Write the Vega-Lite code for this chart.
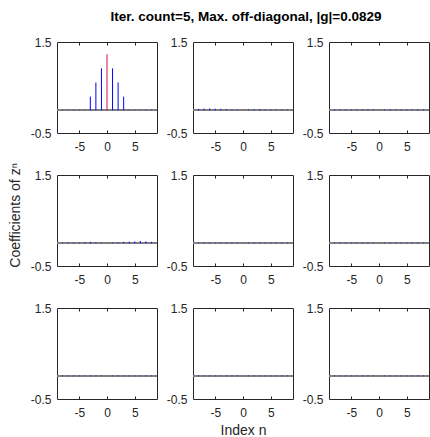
{
  "$schema": "https://vega.github.io/schema/vega-lite/v6.json",
  "padding": {"left": 7, "top": 10, "right": 0, "bottom": 0},
  "title": {"text": "Iter. count=5, Max. off-diagonal, |g|=0.0829", "dx": 27},
  "columns": 3,
  "bounds": "flush",
  "spacing": {"row": 42, "column": 36},
  "data": {"values": [
    {"r":1,"c":1,"n":-8,"v":0.012},{"r":1,"c":1,"n":-7,"v":0.012},{"r":1,"c":1,"n":-6,"v":0.012},{"r":1,"c":1,"n":-5,"v":0.012},{"r":1,"c":1,"n":-4,"v":0.012},{"r":1,"c":1,"n":-3,"v":0.30},{"r":1,"c":1,"n":-2,"v":0.61},{"r":1,"c":1,"n":-1,"v":0.92},{"r":1,"c":1,"n":0,"v":1.23},{"r":1,"c":1,"n":1,"v":0.92},{"r":1,"c":1,"n":2,"v":0.61},{"r":1,"c":1,"n":3,"v":0.30},{"r":1,"c":1,"n":4,"v":0.012},{"r":1,"c":1,"n":5,"v":0.012},{"r":1,"c":1,"n":6,"v":0.012},{"r":1,"c":1,"n":7,"v":0.012},{"r":1,"c":1,"n":8,"v":0.012},
    {"r":1,"c":2,"n":-8,"v":0.03},{"r":1,"c":2,"n":-7,"v":0.035},{"r":1,"c":2,"n":-6,"v":0.04},{"r":1,"c":2,"n":-5,"v":0.035},{"r":1,"c":2,"n":-4,"v":0.03},{"r":1,"c":2,"n":-3,"v":0.025},{"r":1,"c":2,"n":-2,"v":0.015},{"r":1,"c":2,"n":-1,"v":0.015},{"r":1,"c":2,"n":0,"v":0.015},{"r":1,"c":2,"n":1,"v":0.015},{"r":1,"c":2,"n":2,"v":0.025},{"r":1,"c":2,"n":3,"v":0.025},{"r":1,"c":2,"n":4,"v":0.02},{"r":1,"c":2,"n":5,"v":0.015},{"r":1,"c":2,"n":6,"v":0.015},{"r":1,"c":2,"n":7,"v":0.015},{"r":1,"c":2,"n":8,"v":0.015},
    {"r":1,"c":3,"n":-8,"v":0.018},{"r":1,"c":3,"n":-7,"v":0.018},{"r":1,"c":3,"n":-6,"v":0.018},{"r":1,"c":3,"n":-5,"v":0.018},{"r":1,"c":3,"n":-4,"v":0.018},{"r":1,"c":3,"n":-3,"v":0.018},{"r":1,"c":3,"n":-2,"v":0.018},{"r":1,"c":3,"n":-1,"v":0.018},{"r":1,"c":3,"n":0,"v":0.018},{"r":1,"c":3,"n":1,"v":0.018},{"r":1,"c":3,"n":2,"v":0.018},{"r":1,"c":3,"n":3,"v":0.018},{"r":1,"c":3,"n":4,"v":0.018},{"r":1,"c":3,"n":5,"v":0.018},{"r":1,"c":3,"n":6,"v":0.018},{"r":1,"c":3,"n":7,"v":0.018},{"r":1,"c":3,"n":8,"v":0.018},
    {"r":2,"c":1,"n":-8,"v":0.015},{"r":2,"c":1,"n":-7,"v":0.015},{"r":2,"c":1,"n":-6,"v":0.015},{"r":2,"c":1,"n":-5,"v":0.015},{"r":2,"c":1,"n":-4,"v":0.025},{"r":2,"c":1,"n":-3,"v":0.03},{"r":2,"c":1,"n":-2,"v":0.02},{"r":2,"c":1,"n":-1,"v":0.015},{"r":2,"c":1,"n":0,"v":0.015},{"r":2,"c":1,"n":1,"v":0.015},{"r":2,"c":1,"n":2,"v":0.02},{"r":2,"c":1,"n":3,"v":0.03},{"r":2,"c":1,"n":4,"v":0.035},{"r":2,"c":1,"n":5,"v":0.04},{"r":2,"c":1,"n":6,"v":0.05},{"r":2,"c":1,"n":7,"v":0.04},{"r":2,"c":1,"n":8,"v":0.03},
    {"r":2,"c":2,"n":-8,"v":0.015},{"r":2,"c":2,"n":-7,"v":0.015},{"r":2,"c":2,"n":-6,"v":0.015},{"r":2,"c":2,"n":-5,"v":0.015},{"r":2,"c":2,"n":-4,"v":0.015},{"r":2,"c":2,"n":-3,"v":0.015},{"r":2,"c":2,"n":-2,"v":0.015},{"r":2,"c":2,"n":-1,"v":0.015},{"r":2,"c":2,"n":0,"v":0.015},{"r":2,"c":2,"n":1,"v":0.015},{"r":2,"c":2,"n":2,"v":0.015},{"r":2,"c":2,"n":3,"v":0.015},{"r":2,"c":2,"n":4,"v":0.015},{"r":2,"c":2,"n":5,"v":0.015},{"r":2,"c":2,"n":6,"v":0.015},{"r":2,"c":2,"n":7,"v":0.015},{"r":2,"c":2,"n":8,"v":0.015},
    {"r":2,"c":3,"n":-8,"v":0.015},{"r":2,"c":3,"n":-7,"v":0.015},{"r":2,"c":3,"n":-6,"v":0.015},{"r":2,"c":3,"n":-5,"v":0.015},{"r":2,"c":3,"n":-4,"v":0.015},{"r":2,"c":3,"n":-3,"v":0.015},{"r":2,"c":3,"n":-2,"v":0.015},{"r":2,"c":3,"n":-1,"v":0.015},{"r":2,"c":3,"n":0,"v":0.015},{"r":2,"c":3,"n":1,"v":0.015},{"r":2,"c":3,"n":2,"v":0.015},{"r":2,"c":3,"n":3,"v":0.015},{"r":2,"c":3,"n":4,"v":0.015},{"r":2,"c":3,"n":5,"v":0.015},{"r":2,"c":3,"n":6,"v":0.015},{"r":2,"c":3,"n":7,"v":0.015},{"r":2,"c":3,"n":8,"v":0.015},
    {"r":3,"c":1,"n":-8,"v":0.015},{"r":3,"c":1,"n":-7,"v":0.015},{"r":3,"c":1,"n":-6,"v":0.015},{"r":3,"c":1,"n":-5,"v":0.015},{"r":3,"c":1,"n":-4,"v":0.015},{"r":3,"c":1,"n":-3,"v":0.015},{"r":3,"c":1,"n":-2,"v":0.015},{"r":3,"c":1,"n":-1,"v":0.015},{"r":3,"c":1,"n":0,"v":0.015},{"r":3,"c":1,"n":1,"v":0.015},{"r":3,"c":1,"n":2,"v":0.015},{"r":3,"c":1,"n":3,"v":0.015},{"r":3,"c":1,"n":4,"v":0.015},{"r":3,"c":1,"n":5,"v":0.015},{"r":3,"c":1,"n":6,"v":0.015},{"r":3,"c":1,"n":7,"v":0.015},{"r":3,"c":1,"n":8,"v":0.015},
    {"r":3,"c":2,"n":-8,"v":0.015},{"r":3,"c":2,"n":-7,"v":0.015},{"r":3,"c":2,"n":-6,"v":0.015},{"r":3,"c":2,"n":-5,"v":0.015},{"r":3,"c":2,"n":-4,"v":0.015},{"r":3,"c":2,"n":-3,"v":0.015},{"r":3,"c":2,"n":-2,"v":0.015},{"r":3,"c":2,"n":-1,"v":0.015},{"r":3,"c":2,"n":0,"v":0.015},{"r":3,"c":2,"n":1,"v":0.015},{"r":3,"c":2,"n":2,"v":0.015},{"r":3,"c":2,"n":3,"v":0.015},{"r":3,"c":2,"n":4,"v":0.015},{"r":3,"c":2,"n":5,"v":0.015},{"r":3,"c":2,"n":6,"v":0.015},{"r":3,"c":2,"n":7,"v":0.015},{"r":3,"c":2,"n":8,"v":0.015},
    {"r":3,"c":3,"n":-8,"v":0.015},{"r":3,"c":3,"n":-7,"v":0.015},{"r":3,"c":3,"n":-6,"v":0.015},{"r":3,"c":3,"n":-5,"v":0.015},{"r":3,"c":3,"n":-4,"v":0.015},{"r":3,"c":3,"n":-3,"v":0.015},{"r":3,"c":3,"n":-2,"v":0.015},{"r":3,"c":3,"n":-1,"v":0.015},{"r":3,"c":3,"n":0,"v":0.015},{"r":3,"c":3,"n":1,"v":0.015},{"r":3,"c":3,"n":2,"v":0.015},{"r":3,"c":3,"n":3,"v":0.015},{"r":3,"c":3,"n":4,"v":0.015},{"r":3,"c":3,"n":5,"v":0.015},{"r":3,"c":3,"n":6,"v":0.015},{"r":3,"c":3,"n":7,"v":0.015},{"r":3,"c":3,"n":8,"v":0.015}
  ]},
  "concat": [
    {"width": 100, "height": 91, "transform": [{"filter": "datum.r == 1 && datum.c == 1"}], "resolve": {"axis": {"x": "independent"}}, "layer": [
      {"mark": {"type": "rule", "color": "#808080", "strokeWidth": 1.5}, "encoding": {"y": {"datum": 0, "type": "quantitative"}}},
      {"mark": {"type": "rule", "strokeWidth": 1}, "encoding": {"x": {"field": "n", "type": "quantitative", "scale": {"domain": [-9, 9], "nice": false, "zero": false}, "axis": {"values": [-5, 0, 5], "title": null}}, "y": {"field": "v", "type": "quantitative", "scale": {"domain": [-0.5, 1.5], "nice": false, "zero": false}, "axis": {"values": [-0.5, 1.5], "format": ".1f", "title": null}}, "y2": {"datum": 0}, "color": {"condition": {"test": "datum.n === 0", "value": "#cc1155"}, "value": "#0000ff"}}},
      {"mark": {"type": "rule", "opacity": 0}, "encoding": {"x": {"field": "n", "type": "quantitative", "axis": {"orient": "top", "values": [-5, 0, 5], "title": null}}}}
    ]},
    {"width": 100, "height": 91, "transform": [{"filter": "datum.r == 1 && datum.c == 2"}], "resolve": {"axis": {"x": "independent"}}, "layer": [
      {"mark": {"type": "rule", "color": "#808080", "strokeWidth": 1.5}, "encoding": {"y": {"datum": 0, "type": "quantitative"}}},
      {"mark": {"type": "rule", "strokeWidth": 1}, "encoding": {"x": {"field": "n", "type": "quantitative", "scale": {"domain": [-9, 9], "nice": false, "zero": false}, "axis": {"values": [-5, 0, 5], "title": null}}, "y": {"field": "v", "type": "quantitative", "scale": {"domain": [-0.5, 1.5], "nice": false, "zero": false}, "axis": {"values": [-0.5, 1.5], "format": ".1f", "title": null}}, "y2": {"datum": 0}, "color": {"condition": {"test": "datum.n === 0", "value": "#cc1155"}, "value": "#0000ff"}}},
      {"mark": {"type": "rule", "opacity": 0}, "encoding": {"x": {"field": "n", "type": "quantitative", "axis": {"orient": "top", "values": [-5, 0, 5], "title": null}}}}
    ]},
    {"width": 100, "height": 91, "transform": [{"filter": "datum.r == 1 && datum.c == 3"}], "resolve": {"axis": {"x": "independent"}}, "layer": [
      {"mark": {"type": "rule", "color": "#808080", "strokeWidth": 1.5}, "encoding": {"y": {"datum": 0, "type": "quantitative"}}},
      {"mark": {"type": "rule", "strokeWidth": 1}, "encoding": {"x": {"field": "n", "type": "quantitative", "scale": {"domain": [-9, 9], "nice": false, "zero": false}, "axis": {"values": [-5, 0, 5], "title": null}}, "y": {"field": "v", "type": "quantitative", "scale": {"domain": [-0.5, 1.5], "nice": false, "zero": false}, "axis": {"values": [-0.5, 1.5], "format": ".1f", "title": null}}, "y2": {"datum": 0}, "color": {"condition": {"test": "datum.n === 0", "value": "#cc1155"}, "value": "#0000ff"}}},
      {"mark": {"type": "rule", "opacity": 0}, "encoding": {"x": {"field": "n", "type": "quantitative", "axis": {"orient": "top", "values": [-5, 0, 5], "title": null}}}}
    ]},
    {"width": 100, "height": 91, "transform": [{"filter": "datum.r == 2 && datum.c == 1"}], "resolve": {"axis": {"x": "independent"}}, "layer": [
      {"mark": {"type": "rule", "color": "#808080", "strokeWidth": 1.5}, "encoding": {"y": {"datum": 0, "type": "quantitative"}}},
      {"mark": {"type": "rule", "strokeWidth": 1}, "encoding": {"x": {"field": "n", "type": "quantitative", "scale": {"domain": [-9, 9], "nice": false, "zero": false}, "axis": {"values": [-5, 0, 5], "title": null}}, "y": {"field": "v", "type": "quantitative", "scale": {"domain": [-0.5, 1.5], "nice": false, "zero": false}, "axis": {"values": [-0.5, 1.5], "format": ".1f", "title": "Coefficients of zⁿ", "titleY": 40, "titlePadding": 8}}, "y2": {"datum": 0}, "color": {"condition": {"test": "datum.n === 0", "value": "#cc1155"}, "value": "#0000ff"}}},
      {"mark": {"type": "rule", "opacity": 0}, "encoding": {"x": {"field": "n", "type": "quantitative", "axis": {"orient": "top", "values": [-5, 0, 5], "title": null}}}}
    ]},
    {"width": 100, "height": 91, "transform": [{"filter": "datum.r == 2 && datum.c == 2"}], "resolve": {"axis": {"x": "independent"}}, "layer": [
      {"mark": {"type": "rule", "color": "#808080", "strokeWidth": 1.5}, "encoding": {"y": {"datum": 0, "type": "quantitative"}}},
      {"mark": {"type": "rule", "strokeWidth": 1}, "encoding": {"x": {"field": "n", "type": "quantitative", "scale": {"domain": [-9, 9], "nice": false, "zero": false}, "axis": {"values": [-5, 0, 5], "title": null}}, "y": {"field": "v", "type": "quantitative", "scale": {"domain": [-0.5, 1.5], "nice": false, "zero": false}, "axis": {"values": [-0.5, 1.5], "format": ".1f", "title": null}}, "y2": {"datum": 0}, "color": {"condition": {"test": "datum.n === 0", "value": "#cc1155"}, "value": "#0000ff"}}},
      {"mark": {"type": "rule", "opacity": 0}, "encoding": {"x": {"field": "n", "type": "quantitative", "axis": {"orient": "top", "values": [-5, 0, 5], "title": null}}}}
    ]},
    {"width": 100, "height": 91, "transform": [{"filter": "datum.r == 2 && datum.c == 3"}], "resolve": {"axis": {"x": "independent"}}, "layer": [
      {"mark": {"type": "rule", "color": "#808080", "strokeWidth": 1.5}, "encoding": {"y": {"datum": 0, "type": "quantitative"}}},
      {"mark": {"type": "rule", "strokeWidth": 1}, "encoding": {"x": {"field": "n", "type": "quantitative", "scale": {"domain": [-9, 9], "nice": false, "zero": false}, "axis": {"values": [-5, 0, 5], "title": null}}, "y": {"field": "v", "type": "quantitative", "scale": {"domain": [-0.5, 1.5], "nice": false, "zero": false}, "axis": {"values": [-0.5, 1.5], "format": ".1f", "title": null}}, "y2": {"datum": 0}, "color": {"condition": {"test": "datum.n === 0", "value": "#cc1155"}, "value": "#0000ff"}}},
      {"mark": {"type": "rule", "opacity": 0}, "encoding": {"x": {"field": "n", "type": "quantitative", "axis": {"orient": "top", "values": [-5, 0, 5], "title": null}}}}
    ]},
    {"width": 100, "height": 91, "transform": [{"filter": "datum.r == 3 && datum.c == 1"}], "resolve": {"axis": {"x": "independent"}}, "layer": [
      {"mark": {"type": "rule", "color": "#808080", "strokeWidth": 1.5}, "encoding": {"y": {"datum": 0, "type": "quantitative"}}},
      {"mark": {"type": "rule", "strokeWidth": 1}, "encoding": {"x": {"field": "n", "type": "quantitative", "scale": {"domain": [-9, 9], "nice": false, "zero": false}, "axis": {"values": [-5, 0, 5], "title": null}}, "y": {"field": "v", "type": "quantitative", "scale": {"domain": [-0.5, 1.5], "nice": false, "zero": false}, "axis": {"values": [-0.5, 1.5], "format": ".1f", "title": null}}, "y2": {"datum": 0}, "color": {"condition": {"test": "datum.n === 0", "value": "#cc1155"}, "value": "#0000ff"}}},
      {"mark": {"type": "rule", "opacity": 0}, "encoding": {"x": {"field": "n", "type": "quantitative", "axis": {"orient": "top", "values": [-5, 0, 5], "title": null}}}}
    ]},
    {"width": 100, "height": 91, "transform": [{"filter": "datum.r == 3 && datum.c == 2"}], "resolve": {"axis": {"x": "independent"}}, "layer": [
      {"mark": {"type": "rule", "color": "#808080", "strokeWidth": 1.5}, "encoding": {"y": {"datum": 0, "type": "quantitative"}}},
      {"mark": {"type": "rule", "strokeWidth": 1}, "encoding": {"x": {"field": "n", "type": "quantitative", "scale": {"domain": [-9, 9], "nice": false, "zero": false}, "axis": {"values": [-5, 0, 5], "title": "Index n", "titlePadding": 5}}, "y": {"field": "v", "type": "quantitative", "scale": {"domain": [-0.5, 1.5], "nice": false, "zero": false}, "axis": {"values": [-0.5, 1.5], "format": ".1f", "title": null}}, "y2": {"datum": 0}, "color": {"condition": {"test": "datum.n === 0", "value": "#cc1155"}, "value": "#0000ff"}}},
      {"mark": {"type": "rule", "opacity": 0}, "encoding": {"x": {"field": "n", "type": "quantitative", "axis": {"orient": "top", "values": [-5, 0, 5], "title": null}}}}
    ]},
    {"width": 100, "height": 91, "transform": [{"filter": "datum.r == 3 && datum.c == 3"}], "resolve": {"axis": {"x": "independent"}}, "layer": [
      {"mark": {"type": "rule", "color": "#808080", "strokeWidth": 1.5}, "encoding": {"y": {"datum": 0, "type": "quantitative"}}},
      {"mark": {"type": "rule", "strokeWidth": 1}, "encoding": {"x": {"field": "n", "type": "quantitative", "scale": {"domain": [-9, 9], "nice": false, "zero": false}, "axis": {"values": [-5, 0, 5], "title": null}}, "y": {"field": "v", "type": "quantitative", "scale": {"domain": [-0.5, 1.5], "nice": false, "zero": false}, "axis": {"values": [-0.5, 1.5], "format": ".1f", "title": null}}, "y2": {"datum": 0}, "color": {"condition": {"test": "datum.n === 0", "value": "#cc1155"}, "value": "#0000ff"}}},
      {"mark": {"type": "rule", "opacity": 0}, "encoding": {"x": {"field": "n", "type": "quantitative", "axis": {"orient": "top", "values": [-5, 0, 5], "title": null}}}}
    ]}
  ],
  "config": {
    "locale": {"number": {"decimal": ".", "thousands": ",", "grouping": [3], "currency": ["$", ""], "minus": "-"}},
    "view": {"stroke": "#262626", "strokeWidth": 1},
    "title": {"font": "Liberation Sans", "fontSize": 13.5, "fontWeight": "bold", "color": "#000000", "anchor": "middle", "offset": 12},
    "axis": {"grid": false, "domain": false, "labelFont": "Liberation Sans", "labelFontSize": 12, "labelColor": "#262626", "tickColor": "#262626", "labelFlush": false, "labelOverlap": false, "titleFont": "Liberation Sans", "titleFontSize": 14, "titleFontWeight": "normal", "titleColor": "#262626", "titlePadding": 4},
    "axisBottom": {"tickSize": -3, "labelPadding": 11},
    "axisTop": {"tickSize": -3, "labels": false},
    "axisLeft": {"ticks": false, "labelPadding": 6}
  }
}
